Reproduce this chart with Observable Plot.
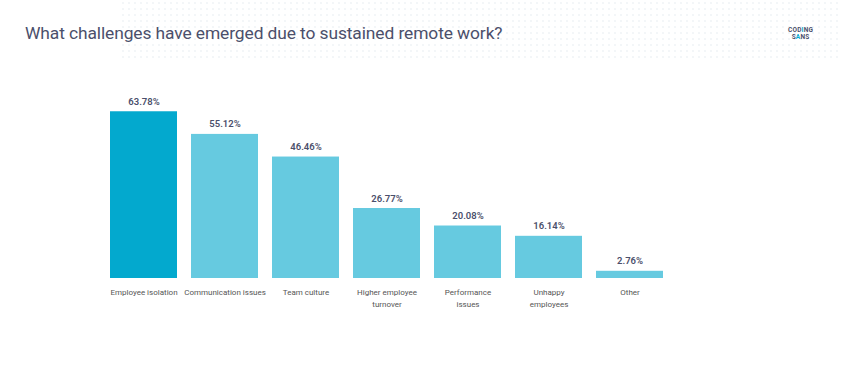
<!DOCTYPE html>
<html>
<head>
<meta charset="utf-8">
<script src="https://cdn.jsdelivr.net/npm/d3@7"></script>
<script src="https://cdn.jsdelivr.net/npm/@observablehq/plot@0.6"></script>
<style>
  body { margin: 0; background: #fff; font-family: Roboto, "Noto Sans", sans-serif; }
  #wrap { position: relative; width: 842px; height: 380px; overflow: hidden; }
  #dots { position: absolute; left: 120px; top: 0; width: 722px; height: 62px;
    background-image: radial-gradient(circle, #f3f6f8 0.7px, transparent 1px);
    background-size: 6px 6px; }
  #title { position: absolute; left: 25px; top: 23px; font-size: 17.4px; color: #4b4f6b;
    letter-spacing: -0.1px; font-weight: 400; }
  #logo { position: absolute; left: 788px; top: 27px; font-size: 6.5px; font-weight: 700;
    color: #4b4f6b; line-height: 7px; text-align: center; letter-spacing: 0.2px; }
  #logo span { color: #03a9ce; }
  #chart { position: absolute; left: 0; top: 60px; }
</style>
</head>
<body>
<div id="wrap">
  <div id="dots"></div>
  <div id="title">What challenges have emerged due to sustained remote work?</div>
  <div id="logo">COD<span>I</span>NG<br>S<span>A</span>NS</div>
  <div id="chart"></div>
</div>
<script>
const categories = ["Employee isolation", "Communication issues", "Team culture", "Higher employee\nturnover", "Performance\nissues", "Unhappy\nemployees", "Other"];
const values = [63.78, 55.12, 46.46, 26.77, 20.08, 16.14, 2.76];
const valueLabels = ["63.78%", "55.12%", "46.46%", "26.77%", "20.08%", "16.14%", "2.76%"];
const highlight = [true, false, false, false, false, false, false];

const data = categories.map((c, i) => ({category: c, value: values[i], label: valueLabels[i], hi: highlight[i]}));

const chart = Plot.plot({
  width: 842,
  height: 320,
  marginLeft: 95,
  marginRight: 165,
  marginTop: 35,
  marginBottom: 102,
  style: {fontFamily: "Roboto, 'Noto Sans', sans-serif", background: "transparent"},
  x: {domain: categories, padding: 0.175, label: null},
  y: {domain: [0, 70], axis: null},
  marks: [
    Plot.barY(data, {x: "category", y: "value", fill: d => d.hi ? "#03a9ce" : "#66cae0"}),
    Plot.text(data, {x: "category", y: "value", text: "label", dy: -10, fontSize: 9.5, fontWeight: 600, fill: "#4b4f6b"}),
    Plot.axisX({tickSize: 0, tickPadding: 7, fontSize: 8, lineHeight: 1.6, color: "#555", label: null})
  ]
});
document.getElementById("chart").appendChild(chart);
</script>
</body>
</html>
